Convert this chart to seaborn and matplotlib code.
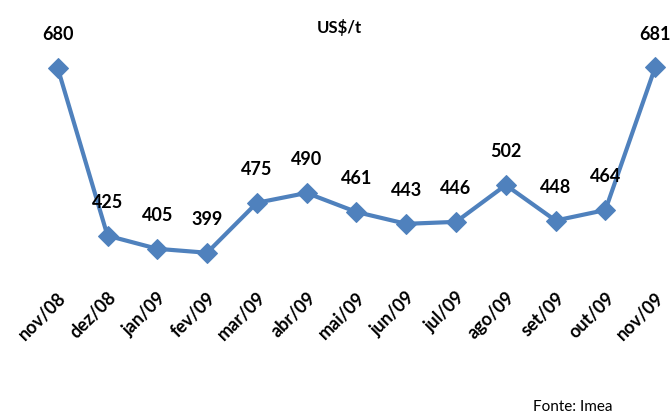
import matplotlib.pyplot as plt
import pandas as pd
import seaborn as sns

# Preço mensal (US$/t)
meses = ['nov/08', 'dez/08', 'jan/09', 'fev/09', 'mar/09', 'abr/09', 'mai/09',
         'jun/09', 'jul/09', 'ago/09', 'set/09', 'out/09', 'nov/09']
precos = [680, 425, 405, 399, 475, 490, 461, 443, 446, 502, 448, 464, 681]

df = pd.DataFrame({'mes': range(len(meses)), 'preco': precos})

sns.set_style('white')
plt.rcParams['font.family'] = ['Lato', 'DejaVu Sans']
plt.rcParams['text.color'] = 'black'
plt.rcParams['xtick.color'] = 'black'

fig = plt.figure(figsize=(6.7, 4.16), dpi=100)
ax = fig.add_axes([0.049, 0.315, 0.966, 0.553])

sns.lineplot(data=df, x='mes', y='preco', ax=ax, color='#4F81BD', linewidth=3,
             marker='D', markersize=10, markeredgecolor='#4F81BD')

for i, v in enumerate(precos):
    ax.annotate(str(v), (i, v), xytext=(0, 24), textcoords='offset points',
                ha='center', va='center', fontsize=13, fontweight='bold')

ax.set_xlim(-0.5, 12.5)
ax.set_ylim(350, 700)
ax.set_xticks(range(len(meses)))
ax.set_xticklabels(meses, rotation=45, ha='right', rotation_mode='anchor',
                   fontsize=13, fontweight='bold')
ax.tick_params(axis='x', pad=3, length=0)
ax.set_yticks([])
ax.set_xlabel('')
ax.set_ylabel('')
sns.despine(ax=ax, left=True, bottom=True)

fig.text(0.507, 0.935, 'US$/t', ha='center', va='center', fontsize=12, fontweight='bold')
fig.text(0.855, 0.022, 'Fonte: Imea', ha='center', va='center', fontsize=11)

fig.savefig('out.png', dpi=100)
